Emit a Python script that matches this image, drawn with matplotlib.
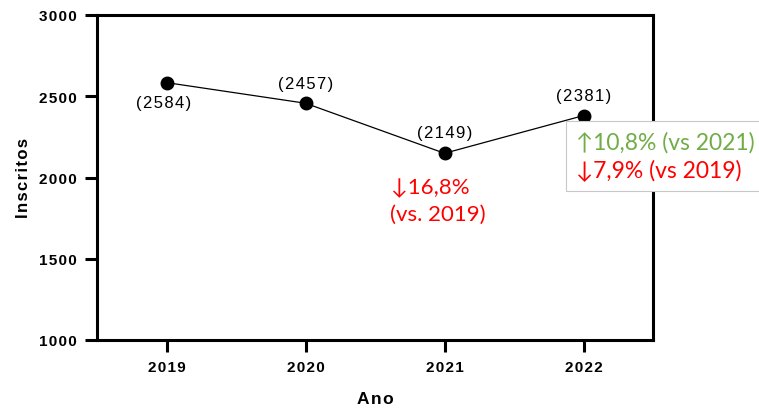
import matplotlib
matplotlib.use("Agg")
import matplotlib.pyplot as plt
from matplotlib.patches import Rectangle
from matplotlib.transforms import Bbox

# Enrolment counts per year
years = [2019, 2020, 2021, 2022]
inscritos = [2584, 2457, 2149, 2381]
y_ticks = [1000, 1500, 2000, 2500, 3000]

SANS = ["Liberation Sans", "DejaVu Sans"]
NOTE = ["Lato", "DejaVu Sans"]
RED = "#FF0000"
GREEN = "#70AD47"
HS = "\u200a"


def spaced(s):
    return HS.join(s)


fig = plt.figure(figsize=(7.59, 4.10), dpi=100)
ax = fig.add_axes([97 / 759, 1 - 341 / 410, (653 - 97) / 759, (341 - 16) / 410])

ax.plot(years, inscritos, color="black", lw=0.9, marker="o", ms=9, zorder=3)

ax.set_xlim(2018.5, 2022.5)
ax.set_ylim(1000, 3000)
ax.set_xticks(years)
ax.set_yticks(y_ticks)
ax.set_xticklabels([spaced(str(y)) for y in years], fontfamily=SANS, fontweight="bold", fontsize=11)
ax.set_yticklabels([spaced(str(v)) for v in y_ticks], fontfamily=SANS, fontweight="bold", fontsize=11)
ax.tick_params(axis="both", width=2.2, length=8.5, direction="out", pad=6)

for s in ax.spines.values():
    s.set_linewidth(2.2)

ax.set_xlabel(spaced("Ano"), fontfamily=SANS, fontweight="bold", fontsize=12.5, labelpad=12)
ax.set_ylabel(spaced("Inscritos"), fontfamily=SANS, fontweight="bold", fontsize=12, labelpad=6)

# Value labels
offsets = [(-2, -14.5), (0, 14), (0, 15), (0, 14.5)]
for x, v, (dx, dy) in zip(years, inscritos, offsets):
    ax.annotate(spaced(f"({v})"), (x, v), xytext=(dx, dy), textcoords="offset points",
                ha="center", va="center", fontfamily=SANS, fontsize=12)

# Percentage change vs 2019 for 2021
ax.annotate("\u2193" + "16,8%", (2021, 2149), xytext=(-38.5, -24.5),
            textcoords="offset points", ha="left", va="center", color=RED,
            fontfamily=NOTE, fontsize=16)
ax.annotate("(vs. 2019)", (2021, 2149), xytext=(-39, -43.5),
            textcoords="offset points", ha="left", va="center", color=RED,
            fontfamily=NOTE, fontsize=16)

# Notes for 2022, inside a light frame
t1 = ax.annotate("\u2191" + "10,8% (vs 2021)", (2022, 2381), xytext=(-5.5, -19),
                 textcoords="offset points", ha="left", va="center", color=GREEN,
                 fontfamily=NOTE, fontsize=16.5, zorder=6, annotation_clip=False)
t2 = ax.annotate("\u2193" + "7,9% (vs 2019)", (2022, 2381), xytext=(-5.5, -39.5),
                 textcoords="offset points", ha="left", va="center", color=RED,
                 fontfamily=NOTE, fontsize=16.5, zorder=6, annotation_clip=False)

fig.canvas.draw()
r = fig.canvas.get_renderer()
bb = Bbox.union([t1.get_window_extent(r), t2.get_window_extent(r)])
pad = 10
x0, y0 = bb.x0 - pad, bb.y0 - pad
frame = Rectangle((x0, y0), fig.bbox.width - x0 + 10, bb.y1 + pad - y0,
                  transform=None, fc="white", ec="#C8C8C8", lw=0.8, zorder=5)
frame.set_clip_on(False)
ax.add_artist(frame)

fig.savefig("out.png", dpi=100)
